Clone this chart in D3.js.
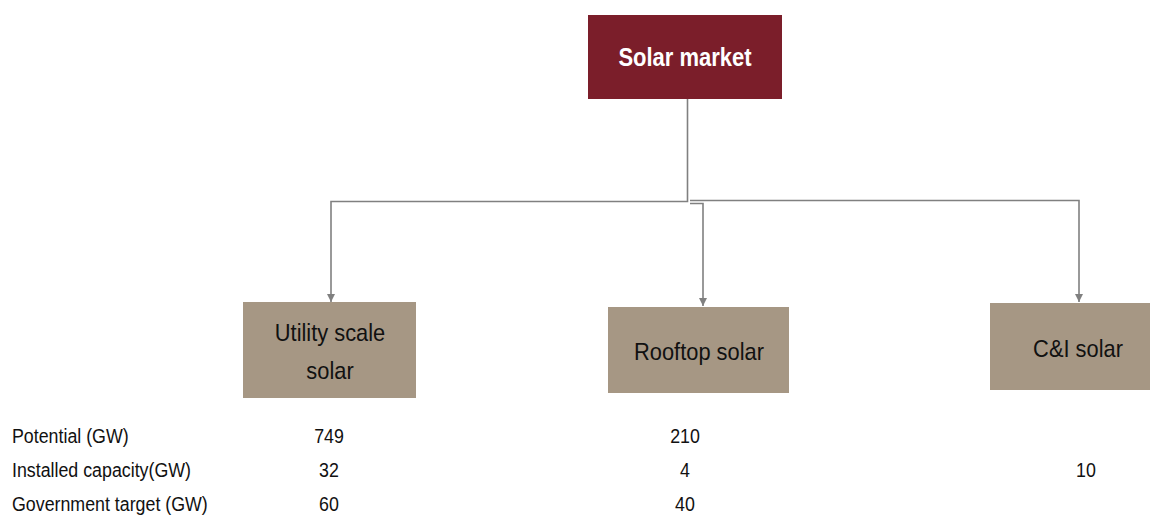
<!DOCTYPE html>
<html>
<head>
<meta charset="utf-8">
<script src="https://cdn.jsdelivr.net/npm/d3@7"></script>
<style>
  body { margin: 0; background: #fff; }
  text { font-family: "Liberation Sans", Arial, sans-serif; }
</style>
</head>
<body>
<script>
// data
var root = "Solar market";
var categories = ["Utility scale solar", "Rooftop solar", "C&I solar"];
var categoryLines = [["Utility scale", "solar"], ["Rooftop solar"], ["C&I solar"]];
var metrics = ["Potential (GW)", "Installed capacity(GW)", "Government target (GW)"];
var potential = [749, 210, null];
var installed = [32, 4, 10];
var target = [60, 40, null];

var width = 1150, height = 516;

var svg = d3.select("body").append("svg")
    .attr("width", width)
    .attr("height", height);

// narrow look: squeeze text horizontally around its anchor
function place(sel, x, y, sx) {
  sel.attr("transform", function(d, i) {
    var xx = typeof x === "function" ? x(d, i) : x;
    var yy = typeof y === "function" ? y(d, i) : y;
    return "translate(" + xx + "," + yy + ") scale(" + sx + ",1)";
  });
}

// column positions
var valueX = d3.scaleOrdinal().domain(categories).range([329, 685, 1086]);
var arrowX = d3.scaleOrdinal().domain(categories).range([331, 703, 1079]);
// box geometry per category (tx = label centre)
var boxes = {
  "Utility scale solar": {x: 243, y: 302, w: 173, h: 96, tx: 330},
  "Rooftop solar": {x: 608, y: 307, w: 181, h: 86, tx: 699},
  "C&I solar": {x: 990, y: 303, w: 160, h: 87, tx: 1078}
};

// rows of the table
var rowY = d3.scalePoint().domain(metrics).range([436, 504]);

// arrow marker
svg.append("defs").append("marker")
    .attr("id", "arrow")
    .attr("viewBox", "0 0 10 10")
    .attr("refX", 10).attr("refY", 5)
    .attr("markerWidth", 10).attr("markerHeight", 8)
    .attr("markerUnits", "userSpaceOnUse")
    .attr("orient", "auto")
  .append("path")
    .attr("d", "M0,0 L10,5 L0,10 Z")
    .attr("fill", "#808080");

// root box
var rootBox = {x: 588, y: 15, w: 194, h: 84};
svg.append("rect")
    .attr("x", rootBox.x).attr("y", rootBox.y)
    .attr("width", rootBox.w).attr("height", rootBox.h)
    .attr("fill", "#7b1e2a");
svg.append("text")
    .call(place, rootBox.x + rootBox.w / 2, rootBox.y + rootBox.h / 2 + 1, 0.88)
    .attr("text-anchor", "middle")
    .attr("dominant-baseline", "central")
    .attr("fill", "#fff")
    .attr("font-weight", "bold")
    .attr("font-size", 25)
    .text(root);

// connectors
var stemX = 687.5;
var line = d3.line();
var connectors = [
  [[stemX, rootBox.y + rootBox.h], [stemX, 201.5], [arrowX(categories[0]), 201.5], [arrowX(categories[0]), boxes[categories[0]].y]],
  [[690, 203.5], [arrowX(categories[1]), 203.5], [arrowX(categories[1]), boxes[categories[1]].y - 1]],
  [[690, 200.5], [arrowX(categories[2]), 200.5], [arrowX(categories[2]), boxes[categories[2]].y - 1]]
];
svg.selectAll("path.conn")
    .data(connectors)
  .enter().append("path")
    .attr("class", "conn")
    .attr("d", line)
    .attr("fill", "none")
    .attr("stroke", "#808080")
    .attr("stroke-width", 1.6)
    .attr("marker-end", "url(#arrow)");

// child boxes
var child = svg.selectAll("g.child")
    .data(categories)
  .enter().append("g")
    .attr("class", "child");

child.append("rect")
    .attr("x", function(d) { return boxes[d].x; })
    .attr("y", function(d) { return boxes[d].y; })
    .attr("width", function(d) { return boxes[d].w; })
    .attr("height", function(d) { return boxes[d].h; })
    .attr("fill", "#a69784");

child.each(function(d, i) {
  var b = boxes[d];
  var lines = categoryLines[i];
  var lh = 38;
  var cy = b.y + b.h / 2 + 2;
  d3.select(this).selectAll("text")
      .data(lines)
    .enter().append("text")
      .call(place, b.tx, function(t, j) { return cy + (j - (lines.length - 1) / 2) * lh; }, 0.91)
      .attr("text-anchor", "middle")
      .attr("dominant-baseline", "central")
      .attr("font-size", 24)
      .attr("fill", "#111")
      .text(function(t) { return t; });
});

// table
var series = [potential, installed, target];
svg.selectAll("text.metric")
    .data(metrics)
  .enter().append("text")
    .attr("class", "metric")
    .call(place, 12, function(d) { return rowY(d); }, 0.89)
    .attr("dominant-baseline", "central")
    .attr("font-size", 20)
    .attr("fill", "#111")
    .text(function(d) { return d; });

metrics.forEach(function(m, r) {
  var vals = series[r];
  svg.selectAll(null)
      .data(categories.filter(function(c, i) { return vals[i] != null; }))
    .enter().append("text")
      .call(place, function(c) { return valueX(c); }, rowY(m), 0.89)
      .attr("text-anchor", "middle")
      .attr("dominant-baseline", "central")
      .attr("font-size", 20)
      .attr("fill", "#111")
      .text(function(c) { return vals[categories.indexOf(c)]; });
});
</script>
</body>
</html>
